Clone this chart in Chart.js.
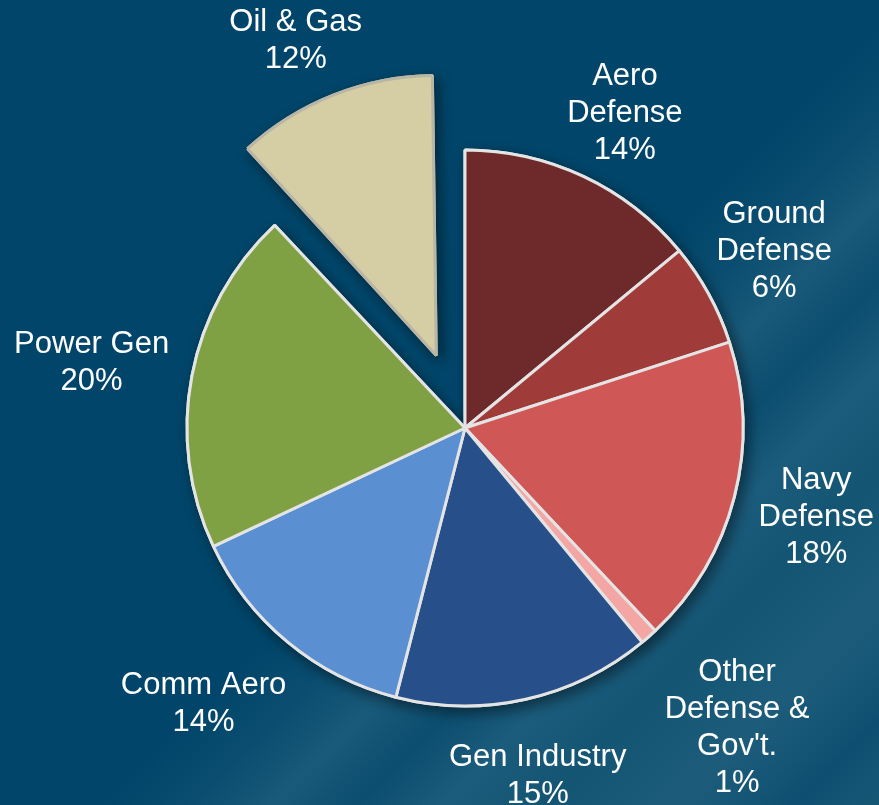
<!DOCTYPE html>
<html>
    <head>
        <title>Segment pie</title>
        <script src="https://cdn.jsdelivr.net/npm/chart.js@4.4.1/dist/chart.umd.min.js"></script>
        <style>
            html, body { margin: 0; padding: 0; }
            body {
                width: 879px;
                height: 805px;
                overflow: hidden;
                background: linear-gradient(135deg, #01466a 0%, #01466a 54%, #0a4d70 59%, #195979 64%, #0c4e70 69%, #1b5b7b 74%, #145574 80%, #1d5c7b 88%, #0e4f71 95%, #175776 100%);
            }
        </style>
    </head>
    <body>
        <canvas id="pie" width="879" height="805"></canvas>
        <script>
        // values, clockwise from 12 o'clock
        const categories = ['Aero\nDefense', 'Ground\nDefense', 'Navy\nDefense', "Other\nDefense &\nGov't.", 'Gen Industry', 'Comm Aero', 'Power Gen', 'Oil & Gas'];
        const shares = [14, 6, 18, 1, 15, 14, 20, 12];
        const exploded = [0, 0, 0, 0, 0, 0, 0, 1];

        const colors = ['#6e2a2b', '#9f3b39', '#cf5856', '#f3a6a3', '#27508a', '#5a8fd1', '#80a044', '#d5cda3'];
        const RADIUS = 278;
        const PULL = 78;      // px the exploded slice moves out
        const GAP = 18;       // space between rim and label
        const FONT = '31px "Liberation Sans", Arial, sans-serif';
        const LINE_H = 37;
        // small hand nudges so the labels sit where the original put them
        const labelNudge = [[2, 21], [-18, 3], [-3, -1], [8, 0], [-4, 5], [-21, -15], [-1, 6], [-10, 15]];

        // keep the pulled slice the same size as the rest, and draw a soft drop shadow
        const shadowPlugin = {
            id: 'shadow',
            beforeDatasetsDraw(chart) {
                const ctx = chart.ctx;
                const arcs = chart.getDatasetMeta(0).data;
                arcs.forEach((arc, i) => {
                    if (exploded[i]) {
                        const fix = 1 - Math.sin(Math.min(Math.PI, arc.circumference));
                        arc.outerRadius = RADIUS + 2 - PULL * fix;
                    }
                });
                ctx.save();
                ctx.shadowColor = 'rgba(0, 0, 0, 0.45)';
                ctx.shadowBlur = 14;
                ctx.shadowOffsetX = 4;
                ctx.shadowOffsetY = 5;
                arcs.forEach(arc => arc.draw(ctx));
                ctx.restore();
            }
        };

        const labelPlugin = {
            id: 'outLabels',
            afterDatasetsDraw(chart) {
                const ctx = chart.ctx;
                const ds = chart.data.datasets[0];
                ctx.save();
                ctx.font = FONT;
                ctx.fillStyle = '#ffffff';
                ctx.textAlign = 'center';
                ctx.textBaseline = 'middle';
                chart.getDatasetMeta(0).data.forEach((arc, i) => {
                    const p = arc.getProps(['x', 'y', 'startAngle', 'endAngle'], true);
                    const mid = (p.startAngle + p.endAngle) / 2;
                    const cx = Math.cos(mid), sy = Math.sin(mid);
                    const lines = chart.data.labels[i].split('\n').concat(ds.data[i] + '%');
                    const w = Math.max(...lines.map(l => ctx.measureText(l).width));
                    const h = lines.length * LINE_H;
                    const support = Math.abs(cx) * w / 2 + Math.abs(sy) * h / 2;
                    const d = RADIUS + GAP + support + exploded[i] * PULL;
                    const x = p.x + cx * d + labelNudge[i][0];
                    const y = p.y + sy * d + labelNudge[i][1];
                    lines.forEach((l, k) => {
                        ctx.fillText(l, x, y + (k - (lines.length - 1) / 2) * LINE_H);
                    });
                });
                ctx.restore();
            }
        };

        const chart = new Chart(document.getElementById('pie').getContext('2d'), {
            type: 'pie',
            data: {
                labels: categories,
                datasets: [{
                    data: shares,
                    backgroundColor: colors,
                    borderColor: exploded.map(e => e ? '#b9b6a6' : '#e4e4e4'),
                    borderWidth: 3,
                    offset: exploded.map(e => e * PULL * 4),
                    hoverOffset: 0
                }]
            },
            options: {
                responsive: false,
                animation: false,
                radius: RADIUS,
                layout: { padding: { left: 51, top: 51, right: 0, bottom: 0 } },
                plugins: {
                    legend: { display: false },
                    tooltip: { enabled: false }
                },
                events: []
            },
            plugins: [shadowPlugin, labelPlugin]
        });
        </script>
    </body>
</html>
